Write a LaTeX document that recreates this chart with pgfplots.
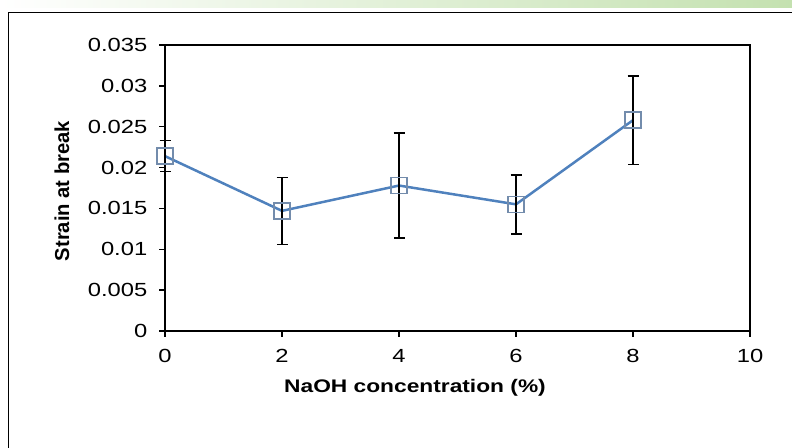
\documentclass[border=0pt]{standalone}
\usepackage{pgfplots}
\pgfplotsset{compat=1.18}
\usepackage{fontspec}
\setmainfont[FakeStretch=1.25]{Liberation Sans}
\newfontfamily\ylabfont{Liberation Sans}
\definecolor{lineblue}{RGB}{79,129,189}
\definecolor{markblue}{RGB}{115,140,172}
\definecolor{greenband}{RGB}{196,225,176}
\begin{document}
\fontsize{9.5}{11}\selectfont
\begin{tikzpicture}[x=0.5pt,y=0.5pt]
\useasboundingbox (0,0) rectangle (792,448);
\begin{scope}
\clip (0,0) rectangle (792,448);
\shade[left color=white, right color=greenband] (0,440) rectangle (792,448);
\draw[line width=0.75pt] (8.5,-20) rectangle (810,435.5);
\end{scope}
\begin{axis}[
  at={(82.5pt,58.5pt)}, anchor=south west,
  scale only axis, width=292.5pt, height=143pt,
  xmin=0, xmax=10, ymin=0, ymax=0.035,
  xtick={0,2,4,6,8,10},
  ytick={0,0.005,0.01,0.015,0.02,0.025,0.03,0.035},
  yticklabels={0,0.005,0.01,0.015,0.02,0.025,0.03,0.035},
  scaled y ticks=false,
  /pgf/number format/assume math mode=true,
  axis line style={line width=0.75pt},
  tick style={black, line width=0.75pt},
  tick align=outside, tick pos=left,
  major tick length=3pt,
  ticklabel style={font=\fontsize{9.5}{11}\selectfont},
  yticklabel style={xshift=-2.5pt},
  xticklabel style={yshift=-3pt},
  clip=false,
]
\addplot[lineblue, line width=1.25pt, mark=square, mark size=4pt,
  mark options={markblue, line width=0.75pt, solid},
  error bars/.cd, y dir=both, y explicit,
  error bar style={black, line width=0.75pt},
  error mark options={rotate=90, mark size=2.75pt, black, line width=0.75pt}]
  coordinates {
  (0,0.0214) +- (0,0.0019)
  (2,0.0147) +- (0,0.0041)
  (4,0.0178) +- (0,0.0064)
  (6,0.0155) +- (0,0.0036)
  (8,0.0258) +- (0,0.0054)
  };
\end{axis}
\node[font=\bfseries\fontsize{9.1}{11}\selectfont] at (415,60) {NaOH concentration (\%)};
\node[font=\ylabfont\bfseries\fontsize{10.1}{12}\selectfont, rotate=90] at (62,257) {Strain at break};
\end{tikzpicture}
\end{document}
